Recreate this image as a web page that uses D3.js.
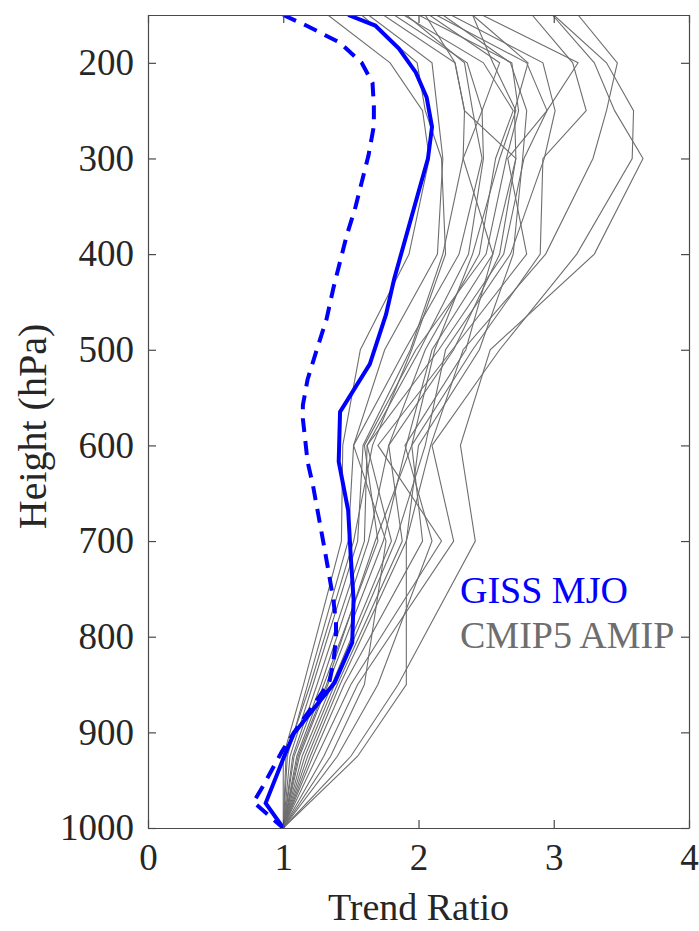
<!DOCTYPE html>
<html>
<head>
<meta charset="utf-8">
<script src="https://cdn.jsdelivr.net/npm/d3@7"></script>
<style>
  html, body { margin: 0; padding: 0; background: #fff; }
  svg { display: block; }
  text { font-family: "Liberation Serif", "Times New Roman", serif; }
</style>
</head>
<body>
<div id="chart"></div>
<script>
// ---------- Data ----------
const xTicks = [0, 1, 2, 3, 4];
const yTicks = [200, 300, 400, 500, 600, 700, 800, 900, 1000];

// GISS MJO (solid): pressure levels and trend ratio
const gissSolidP = [150, 161, 185, 210, 236, 267, 300, 335, 426, 463, 515, 565, 617, 668, 718, 761, 806, 848, 901, 924, 974, 1000];
const gissSolidX = [1.48, 1.68, 1.855, 1.98, 2.06, 2.10, 2.07, 2.00, 1.82, 1.76, 1.64, 1.42, 1.41, 1.48, 1.50, 1.52, 1.51, 1.38, 1.08, 1.01, 0.87, 1.00];

// GISS (dashed)
const gissDashP = [150, 161, 179, 200, 221, 245, 266, 297, 325, 353, 380, 408, 436, 468, 499, 531, 558, 572, 617, 642, 673, 704, 736, 761, 785, 802, 827, 848, 868, 900, 920, 955, 973, 1000];
const gissDashX = [1.00, 1.17, 1.42, 1.58, 1.66, 1.67, 1.67, 1.63, 1.58, 1.53, 1.47, 1.42, 1.37, 1.32, 1.25, 1.18, 1.145, 1.145, 1.18, 1.22, 1.26, 1.30, 1.34, 1.37, 1.39, 1.39, 1.37, 1.34, 1.24, 1.08, 0.99, 0.855, 0.78, 1.00];

// CMIP5 AMIP models
const cmipLevels = [1000, 925, 850, 700, 600, 500, 400, 300, 250, 200, 150];
const cmip01 = [1, 1.00, 1.15, 1.43, 1.44, 1.57, 1.93, 2.08, 2.03, 1.79, 1.33];
const cmip02 = [1, 1.03, 1.18, 1.48, 1.52, 1.75, 2.14, 2.18, 2.14, 2.10, 1.63];
const cmip03 = [1, 1.05, 1.22, 1.55, 1.59, 1.94, 2.18, 2.33, 2.34, 2.27, 1.74];
const cmip04 = [1, 1.07, 1.25, 1.60, 1.62, 2.01, 2.37, 2.48, 2.47, 2.36, 1.82];
const cmip05 = [1, 1.08, 1.28, 1.63, 1.78, 2.05, 2.45, 2.57, 2.70, 2.48, 1.89];
const cmip06 = [1, 1.10, 1.30, 1.70, 1.60, 1.98, 2.50, 2.65, 2.74, 2.69, 2.00];
const cmip07 = [1, 1.12, 1.33, 1.74, 1.91, 2.10, 2.55, 2.72, 2.34, 2.27, 2.05];
const cmip08 = [1, 1.14, 1.36, 1.80, 1.62, 2.15, 2.63, 2.78, 2.95, 2.80, 2.13];
const cmip09 = [1, 1.16, 1.38, 1.83, 2.05, 2.20, 2.68, 2.93, 3.01, 2.92, 2.24];
const cmip10 = [1, 1.18, 1.40, 1.88, 1.78, 2.26, 2.60, 2.72, 2.71, 2.81, 2.40];
const cmip11 = [1, 1.20, 1.42, 1.91, 2.09, 2.33, 2.94, 3.29, 3.39, 3.47, 3.18];
const cmip12 = [1, 1.22, 1.45, 2.03, 1.95, 2.40, 2.90, 2.92, 3.24, 3.14, 2.84];
const cmip13 = [1, 1.25, 1.50, 2.17, 1.70, 2.25, 2.80, 2.66, 2.95, 3.18, 2.47];
const cmip14 = [1, 1.30, 1.55, 2.26, 2.10, 2.60, 3.17, 3.58, 3.59, 3.39, 3.00];
const cmip15 = [1, 1.50, 1.85, 2.42, 2.31, 2.53, 3.30, 3.66, 3.45, 3.30, 2.99];
const cmip16 = [1, 1.55, 1.91, 1.91, 2.00, 2.45, 2.70, 2.77, 2.80, 2.68, 2.18];
const cmip17 = [1, 1.35, 1.60, 1.76, 1.52, 1.90, 2.30, 2.47, 2.40, 2.34, 1.91];
const cmip18 = [1, 1.40, 1.70, 2.10, 1.90, 2.35, 2.55, 2.33, 2.47, 2.60, 2.08];
const cmip19 = [1, 1.02, 1.20, 1.52, 1.66, 1.95, 2.20, 2.17, 2.05, 1.99, 1.58];
const cmip20 = [1, 1.11, 1.32, 1.68, 1.95, 2.12, 2.40, 2.60, 2.72, 2.55, 2.40];
const cmipModels = [cmip01, cmip02, cmip03, cmip04, cmip05, cmip06, cmip07, cmip08, cmip09, cmip10,
                    cmip11, cmip12, cmip13, cmip14, cmip15, cmip16, cmip17, cmip18, cmip19, cmip20];

const legendLabels = ["GISS MJO", "CMIP5 AMIP"];
const xLabel = "Trend Ratio";
const yLabel = "Height (hPa)";

// ---------- Layout ----------
const W = 699, H = 931;
const L = 148, R = 689, T = 15, B = 828;
const axisColor = "#4a4a4a";
const textColor = "#262626";
const grayColor = "#6e6e6e";
const blue = "#0000ff";

const svg = d3.select("#chart").append("svg").attr("width", W).attr("height", H);

const x = d3.scaleLinear().domain([0, 4]).range([L, R]);
const y = d3.scaleLinear().domain([150, 1000]).range([T, B]);

svg.append("defs").append("clipPath").attr("id", "clip")
  .append("rect").attr("x", L).attr("y", T).attr("width", R - L).attr("height", B - T);

const plot = svg.append("g").attr("clip-path", "url(#clip)");

const line = d3.line().x(d => x(d[0])).y(d => y(d[1]));

cmipModels.forEach(m => {
  plot.append("path")
    .datum(m.map((v, i) => [v, cmipLevels[i]]))
    .attr("d", line)
    .attr("fill", "none")
    .attr("stroke", grayColor)
    .attr("stroke-width", 1.1);
});

plot.append("path")
  .datum(gissDashX.map((v, i) => [v, gissDashP[i]]))
  .attr("d", line)
  .attr("fill", "none")
  .attr("stroke", blue)
  .attr("stroke-width", 4)
  .attr("stroke-dasharray", "14,9");

plot.append("path")
  .datum(gissSolidX.map((v, i) => [v, gissSolidP[i]]))
  .attr("d", line)
  .attr("fill", "none")
  .attr("stroke", blue)
  .attr("stroke-width", 4)
  .attr("stroke-linejoin", "miter");

// ---------- Axes (MATLAB-style box with inward ticks) ----------
const tickLen = 8;
const axB = svg.append("g").attr("transform", `translate(0,${B})`)
  .call(d3.axisBottom(x).tickValues(xTicks).tickFormat(d3.format("d")).tickSizeInner(-tickLen).tickSizeOuter(0).tickPadding(16));
const axT = svg.append("g").attr("transform", `translate(0,${T})`)
  .call(d3.axisTop(x).tickValues(xTicks).tickFormat("").tickSizeInner(-tickLen).tickSizeOuter(0));
const axL = svg.append("g").attr("transform", `translate(${L},0)`)
  .call(d3.axisLeft(y).tickValues(yTicks).tickFormat(d3.format("d")).tickSizeInner(-tickLen).tickSizeOuter(0).tickPadding(14));
const axR = svg.append("g").attr("transform", `translate(${R},0)`)
  .call(d3.axisRight(y).tickValues(yTicks).tickFormat("").tickSizeInner(-tickLen).tickSizeOuter(0));

[axB, axT, axL, axR].forEach(a => {
  a.select(".domain").attr("stroke", axisColor).attr("stroke-width", 1.2);
  a.selectAll(".tick line").attr("stroke", axisColor).attr("stroke-width", 1.2);
  a.selectAll(".tick text").attr("fill", textColor).attr("font-size", 37)
    .attr("font-family", "'Liberation Serif', 'Times New Roman', serif");
});
axB.selectAll(".tick text").attr("dy", "0.71em");

// Axis labels
svg.append("text")
  .attr("x", x(2)).attr("y", 920)
  .attr("text-anchor", "middle")
  .attr("font-size", 38).attr("fill", textColor)
  .text(xLabel);

svg.append("text")
  .attr("transform", `translate(46,${(T + B) / 2 + 5}) rotate(-90)`)
  .attr("text-anchor", "middle")
  .attr("font-size", 40).attr("fill", textColor)
  .text(yLabel);

// Legend text
svg.append("text").attr("x", 460).attr("y", 603)
  .attr("font-size", 38).attr("fill", blue).text(legendLabels[0]);
svg.append("text").attr("x", 460).attr("y", 648)
  .attr("font-size", 38).attr("fill", grayColor).text(legendLabels[1]);
</script>
</body>
</html>
